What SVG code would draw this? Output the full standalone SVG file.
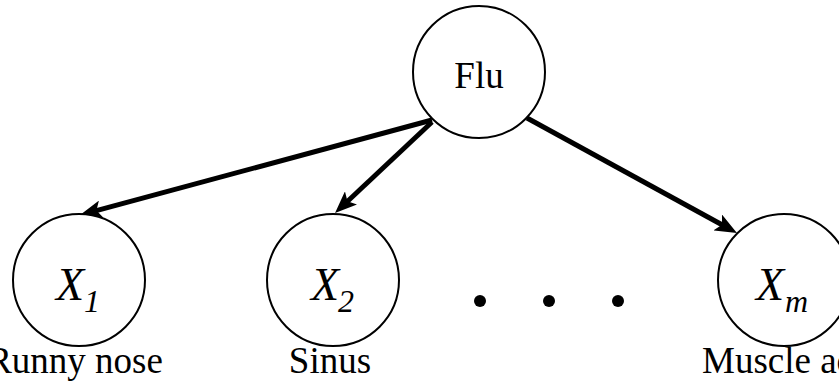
<svg xmlns="http://www.w3.org/2000/svg" width="839" height="383" viewBox="0 0 839 383">
  <style>
    .node { fill: #fff; stroke: #000; stroke-width: 2; }
    .lbl { font-family: "Liberation Serif", serif; font-size: 37px; fill: #000; }
    .var { font-family: "Liberation Serif", serif; font-style: italic; font-size: 46px; fill: #000; }
    .sub { font-family: "Liberation Serif", serif; font-style: italic; font-size: 32px; fill: #000; }
    .edge { stroke: #000; stroke-width: 5; fill: none; marker-end: url(#head); }
  </style>
  <defs>
    <marker id="head" viewBox="0 0 22 18" markerUnits="userSpaceOnUse" markerWidth="22" markerHeight="18" refX="7" refY="9" orient="auto">
      <path d="M0,0 L22,9 L0,18 L5,9 z" fill="#000"/>
    </marker>
  </defs>

  <g id="edges">
    <line class="edge" x1="432" y1="120" x2="94.5" y2="211.1"/>
    <line class="edge" x1="432" y1="122" x2="346" y2="202.7"/>
    <line class="edge" x1="527" y1="118" x2="723.8" y2="225.8"/>
  </g>

  <g id="flu">
    <circle class="node" cx="479" cy="72" r="66"/>
    <text class="lbl" x="479" y="88" text-anchor="middle">Flu</text>
  </g>

  <g id="x1">
    <circle class="node" cx="79" cy="280" r="66"/>
    <text class="var" x="56" y="300">X</text>
    <text class="sub" x="84" y="312">1</text>
    <text class="lbl" x="75" y="373" text-anchor="middle">Runny nose</text>
  </g>

  <g id="x2">
    <circle class="node" cx="333" cy="280" r="66"/>
    <text class="var" x="311" y="300">X</text>
    <text class="sub" x="338" y="312">2</text>
    <text class="lbl" x="330" y="373" text-anchor="middle">Sinus</text>
  </g>

  <g id="ellipsis">
    <circle cx="480" cy="301" r="6" fill="#000"/>
    <circle cx="549" cy="301" r="6" fill="#000"/>
    <circle cx="618" cy="301" r="6" fill="#000"/>
  </g>

  <g id="xm">
    <circle class="node" cx="784" cy="280" r="66"/>
    <text class="var" x="756" y="300">X</text>
    <text class="sub" x="785" y="312">m</text>
    <text class="lbl" x="702" y="373">Muscle aches</text>
  </g>
</svg>
